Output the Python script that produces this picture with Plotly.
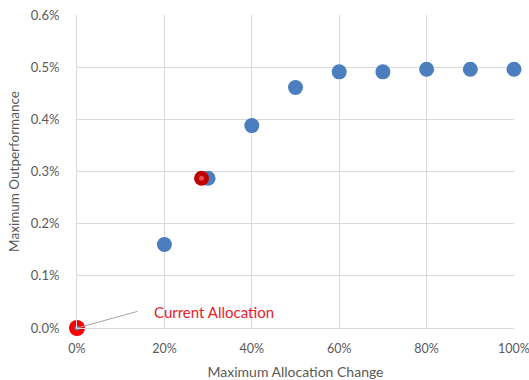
import plotly.graph_objects as go

alloc_change = [0, 20, 30, 40, 50, 60, 70, 80, 90, 100]
outperf = [0.0, 0.160, 0.287, 0.388, 0.461, 0.491, 0.491, 0.496, 0.496, 0.496]

current_x = [0]
current_y = [0.0]
mid_red_x = [28.5]
mid_red_y = [0.287]

x_ticks = [0, 20, 40, 60, 80, 100]
x_tick_text = ["0%", "20%", "40%", "60%", "80%", "100%"]
y_ticks = [0.0, 0.1, 0.2, 0.3, 0.4, 0.5, 0.6]
y_tick_text = ["0.0%", "0.1%", "0.2%", "0.3%", "0.4%", "0.5%", "0.6%"]

label_text = "Current Allocation"

fig = go.Figure()
fig.add_trace(go.Scatter(x=alloc_change, y=outperf, mode="markers",
                         marker=dict(size=15, color="#4a7ebf", line=dict(width=0)),
                         showlegend=False, cliponaxis=False))
fig.add_trace(go.Scatter(x=mid_red_x, y=mid_red_y, mode="markers",
                         marker=dict(size=15, color="#c00000", line=dict(width=0)),
                         showlegend=False, cliponaxis=False))
fig.add_trace(go.Scatter(x=mid_red_x, y=mid_red_y, mode="markers",
                         marker=dict(size=5, color="#e05050", line=dict(width=0)),
                         showlegend=False, cliponaxis=False))
fig.add_trace(go.Scatter(x=current_x, y=current_y, mode="markers",
                         marker=dict(size=16, color="#ff0000", line=dict(width=0)),
                         showlegend=False, cliponaxis=False))
fig.add_trace(go.Scatter(x=current_x, y=current_y, mode="markers",
                         marker=dict(size=5, color="#5a7cb8", line=dict(width=0)),
                         showlegend=False, cliponaxis=False))

fig.add_annotation(x=0, y=0, xref="x", yref="y", ax=62, ay=-17,
                   text="", showarrow=True, arrowhead=0, arrowwidth=1,
                   arrowcolor="#a6a6a6")
fig.add_annotation(x=0, y=0, xref="x", yref="y", xshift=75, yshift=16,
                   text=label_text, showarrow=False, xanchor="left", yanchor="middle",
                   font=dict(color="#e8202a", size=15, family="Lato"))

fig.update_layout(
    width=529, height=380,
    margin=dict(l=77, r=15, t=15, b=52),
    paper_bgcolor="white", plot_bgcolor="white",
    font=dict(family="Lato", size=13, color="#595959"),
    xaxis=dict(range=[0, 100], tickvals=x_ticks, ticktext=x_tick_text,
               showgrid=True, gridcolor="#d9d9d9", gridwidth=1,
               showline=True, linecolor="#d9d9d9", zeroline=False,
               ticks="", ticklabelstandoff=9, ticklabeloverflow="allow",
               tickfont=dict(size=12.5),
               automargin=False,
               title=dict(text="Maximum Allocation Change", standoff=14,
                          font=dict(family="Lato", size=14, color="#595959")),
               fixedrange=True),
    yaxis=dict(range=[0, 0.6], tickvals=y_ticks, ticktext=y_tick_text,
               showgrid=True, gridcolor="#d9d9d9", gridwidth=1,
               showline=True, linecolor="#d9d9d9", zeroline=False,
               ticks="", ticklabelstandoff=14, automargin=False,
               title=dict(text="Maximum Outperformance", standoff=8,
                          font=dict(family="Lato", size=13.5, color="#595959")),
               fixedrange=True),
)

fig.write_html("out.html")
